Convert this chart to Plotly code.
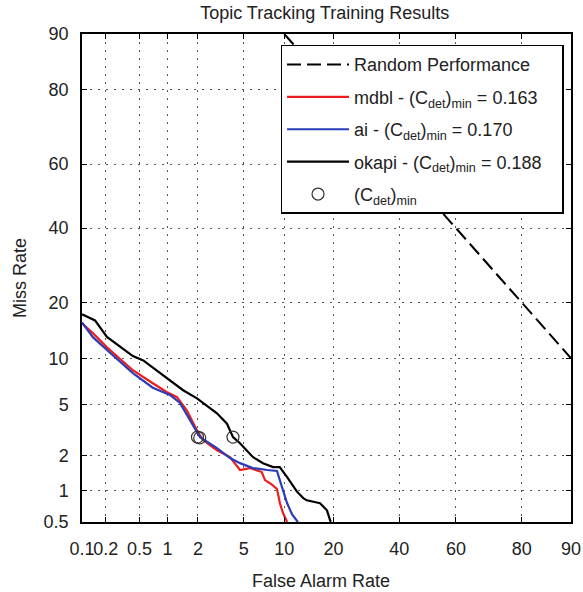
import plotly.graph_objects as go
from statistics import NormalDist

# ---------------- data (percent) ----------------
tick_vals_x = [0.1, 0.2, 0.5, 1, 2, 5, 10, 20, 40, 60, 80, 90]
tick_text_x = ["0.1", "0.2", "0.5", "1", "2", "5", "10", "20", "40", "60", "80", "90"]
tick_vals_y = [0.5, 1, 2, 5, 10, 20, 40, 60, 80, 90]
tick_text_y = ["0.5", "1", "2", "5", "10", "20", "40", "60", "80", "90"]

random_fa = [10, 20, 40, 60, 80, 90]
random_miss = [90, 80, 60, 40, 20, 10]

mdbl_fa = [0.10, 0.139, 0.207, 0.42, 0.70, 0.99, 1.25, 1.57, 1.96, 2.23, 2.98, 3.86,
           4.67, 5.6, 6.9, 7.3, 8.2, 8.9, 9.33, 9.8, 10.45]
mdbl_miss = [15.75, 13.9, 11.6, 8.44, 6.96, 6.06, 5.6, 4.5, 3.2, 2.69, 2.23, 1.96,
             1.52, 1.58, 1.46, 1.24, 1.13, 1.03, 0.76, 0.61, 0.5]

ai_fa = [0.10, 0.139, 0.207, 0.42, 0.70, 1.06, 1.34, 1.68, 2.09, 2.98, 3.86, 4.67,
         5.9, 7.56, 8.9, 9.65, 10.45, 11.3, 12.3]
ai_miss = [15.9, 13.2, 11.2, 8.1, 6.5, 5.8, 5.1, 3.83, 2.84, 2.32, 1.92, 1.74,
           1.58, 1.52, 1.49, 1.07, 0.76, 0.59, 0.5]

okapi_fa = [0.10, 0.147, 0.207, 0.30, 0.42, 0.55, 0.78, 1.06, 1.44, 1.96, 2.43, 2.98,
            3.64, 4.09, 4.67, 5.3, 5.9, 7.05, 8.35, 9.3, 10.45, 12.1, 13.3, 14.0,
            16.8, 18.4, 19.3]
okapi_miss = [17.5, 16.3, 13.3, 11.65, 10.3, 9.7, 8.4, 7.3, 6.25, 5.5, 4.9, 4.3,
              3.6, 2.84, 2.54, 2.23, 1.96, 1.74, 1.61, 1.61, 1.32, 0.98, 0.85, 0.81,
              0.76, 0.65, 0.5]

cmin_fa = [1.98, 2.08, 4.09]
cmin_miss = [2.84, 2.80, 2.84]

# ---------------- normal-deviate scale ----------------
_nd = NormalDist()


def z(vals):
    return [_nd.inv_cdf(v / 100.0) for v in vals]


FONT = "Liberation Sans, Arial, sans-serif"
FS = 18
TXT = "#222"
PAD = "&nbsp;" * 3

fig = go.Figure()
fig.add_trace(go.Scatter(x=z(random_fa), y=z(random_miss), mode="lines",
                         name="Random Performance", legendgroup="g1",
                         line=dict(color="black", width=2, dash="14px,6px")))
fig.add_trace(go.Scatter(x=z(mdbl_fa), y=z(mdbl_miss), mode="lines",
                         name="mdbl - (C<sub>det</sub>)<sub>min</sub> = 0.163",
                         legendgroup="g2",
                         line=dict(color="#ee1c1c", width=2.2)))
fig.add_trace(go.Scatter(x=z(ai_fa), y=z(ai_miss), mode="lines",
                         name="ai - (C<sub>det</sub>)<sub>min</sub> = 0.170",
                         legendgroup="g3",
                         line=dict(color="#2a3cb8", width=2.2)))
fig.add_trace(go.Scatter(x=z(okapi_fa), y=z(okapi_miss), mode="lines",
                         name="okapi - (C<sub>det</sub>)<sub>min</sub> = 0.188" + PAD,
                         legendgroup="g4",
                         line=dict(color="black", width=2.2)))
fig.add_trace(go.Scatter(x=z(cmin_fa), y=z(cmin_miss), mode="markers",
                         name="(C<sub>det</sub>)<sub>min</sub>", legendgroup="g5",
                         marker=dict(symbol="circle-open", size=12, color="#333",
                                     line=dict(width=1.2))))

axis_common = dict(
    showline=True, linecolor="black", linewidth=1.5, mirror="ticks",
    ticks="inside", ticklen=5, tickcolor="black", tickwidth=1,
    showgrid=True, gridcolor="#555", gridwidth=1, griddash="2px,6px",
    zeroline=False, tickfont=dict(family=FONT, size=FS, color=TXT),
    automargin=False,
)

fig.update_xaxes(range=[_nd.inv_cdf(0.001), _nd.inv_cdf(0.9)],
                 tickmode="array", tickvals=z(tick_vals_x), ticktext=tick_text_x,
                 tickangle=0, ticklabelstandoff=10, **axis_common)
fig.update_yaxes(range=[_nd.inv_cdf(0.005), _nd.inv_cdf(0.9)],
                 tickmode="array", tickvals=z(tick_vals_y), ticktext=tick_text_y,
                 ticklabelstandoff=8, **axis_common)

fig.add_annotation(text="False Alarm Rate", xref="paper", yref="paper",
                   x=0.489, y=-0.121, xanchor="center", yanchor="middle",
                   showarrow=False, font=dict(family=FONT, size=FS, color=TXT))
fig.add_annotation(text="Miss Rate", xref="paper", yref="paper",
                   x=-0.127, y=0.5, xanchor="center", yanchor="middle",
                   textangle=-90, showarrow=False,
                   font=dict(family=FONT, size=FS, color=TXT))

fig.update_layout(
    width=583, height=592,
    margin=dict(l=82, r=12, t=34, b=70),
    paper_bgcolor="white", plot_bgcolor="white",
    title=dict(text="Topic Tracking Training Results", x=0.557, xanchor="center",
               y=1 - 13 / 592, yanchor="middle",
               font=dict(family=FONT, size=FS, color=TXT)),
    legend=dict(x=0.406, y=0.978, xanchor="left", yanchor="top",
                bgcolor="white", bordercolor="black", borderwidth=1.5,
                itemwidth=62, tracegroupgap=6,
                font=dict(family=FONT, size=FS, color=TXT)),
    showlegend=True,
)

fig.write_html("out.html", config={"displayModeBar": False},
               post_script="document.body.style.margin='0';document.body.style.padding='0';")
